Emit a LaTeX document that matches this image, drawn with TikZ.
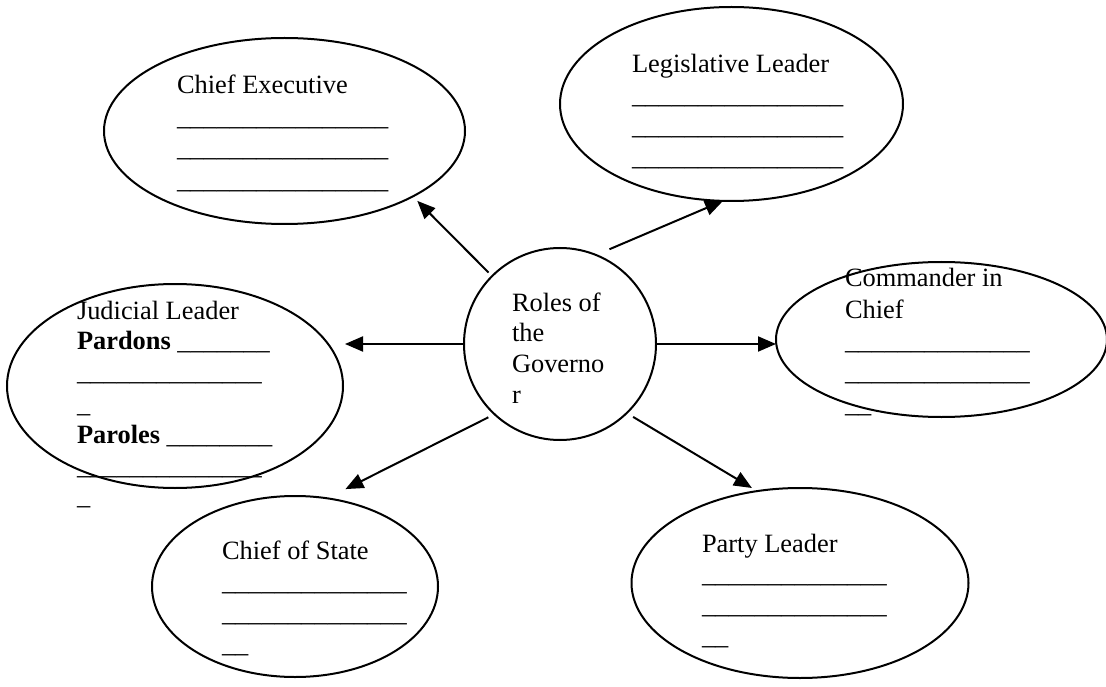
\documentclass[tikz,border=0pt]{standalone}
\usepackage{fontspec}
\setmainfont{Liberation Serif}
\usetikzlibrary{arrows.meta,shapes.geometric}
\newcommand{\lns}[2]{\vtop{\baselineskip=#1pt\lineskiplimit=-100pt #2}}
\begin{document}
\begin{tikzpicture}[x=1pt,y=-1pt,
  oval/.style={draw, ellipse, line width=2pt, inner sep=0pt, outer sep=0pt},
  txt/.style={anchor=base west, inner sep=0pt, outer sep=0pt, font=\fontsize{26.4}{31}\selectfont},
  arr/.style={line width=2pt, -{Triangle[length=18pt,width=15pt]}}]
\useasboundingbox (0,0) rectangle (1106,687);
% ovals
\node[oval, minimum width=361pt, minimum height=186pt] (ce) at (284.5,131) {};
\node[oval, minimum width=343pt, minimum height=194pt] (ll) at (731.5,104) {};
\node[oval, minimum width=331pt, minimum height=155pt] (cc) at (941.5,339.5) {};
\node[oval, minimum width=336pt, minimum height=204pt] (jl) at (175,386) {};
\node[oval, minimum width=192pt, minimum height=192pt] (roles) at (560,344) {};
\node[oval, minimum width=286pt, minimum height=181pt] (cs) at (295,586.5) {};
\node[oval, minimum width=337pt, minimum height=190pt] (pl) at (800,583) {};
% texts
\node[txt] (tce) at (177,94) {\lns{31.5}{\hbox{Chief Executive}\hbox{\_\_\_\_\_\_\_\_\_\_\_\_\_\_\_\_}\hbox{\_\_\_\_\_\_\_\_\_\_\_\_\_\_\_\_}\hbox{\_\_\_\_\_\_\_\_\_\_\_\_\_\_\_\_}}};
\node[txt] (tll) at (632,73) {\lns{31}{\hbox{Legislative Leader}\hbox{\_\_\_\_\_\_\_\_\_\_\_\_\_\_\_\_}\hbox{\_\_\_\_\_\_\_\_\_\_\_\_\_\_\_\_}\hbox{\_\_\_\_\_\_\_\_\_\_\_\_\_\_\_\_}}};
\node[txt] (tcc) at (845,287) {\lns{31.3}{\hbox{Commander in}\hbox{Chief}\hbox{\_\_\_\_\_\_\_\_\_\_\_\_\_\_}\hbox{\_\_\_\_\_\_\_\_\_\_\_\_\_\_}\hbox{\_\_}}};
\node[txt] (tjl) at (77,319) {\lns{31}{\hbox{Judicial Leader}\hbox{\textbf{Pardons} \_\_\_\_\_\_\_}\hbox{\_\_\_\_\_\_\_\_\_\_\_\_\_\_}\hbox{\_}\hbox{\textbf{Paroles} \_\_\_\_\_\_\_\_}\hbox{\_\_\_\_\_\_\_\_\_\_\_\_\_\_}\hbox{\_}}};
\node[txt] (troles) at (512,311) {\lns{30.7}{\hbox{Roles of}\hbox{the}\hbox{Governo}\hbox{r}}};
\node[txt] (tcs) at (222,559) {\lns{31}{\hbox{Chief of State}\hbox{\_\_\_\_\_\_\_\_\_\_\_\_\_\_}\hbox{\_\_\_\_\_\_\_\_\_\_\_\_\_\_}\hbox{\_\_}}};
\node[txt] (tpl) at (702,552) {\lns{30.7}{\hbox{Party Leader}\hbox{\_\_\_\_\_\_\_\_\_\_\_\_\_\_}\hbox{\_\_\_\_\_\_\_\_\_\_\_\_\_\_}\hbox{\_\_}}};
% connectors
\draw[arr, shorten <=5.1pt, shorten >=6.3pt] (roles.135.4) -- (ce.-27.1);
\draw[arr, shorten <=14.7pt] (roles.68.4) -- (ll.-95.4);
\draw[arr, shorten >=2pt] (roles.west) -- (jl.east |- roles.west);
\draw[arr] (roles.east) -- (cc.west |- roles.east);
\draw[arr, shorten <=6.9pt, shorten >=20.5pt] (roles.-133.3) -- (cs.70.1);
\draw[arr, shorten <=7.5pt, shorten >=6.1pt] (roles.-46.1) -- (pl.115);
\end{tikzpicture}
\end{document}
